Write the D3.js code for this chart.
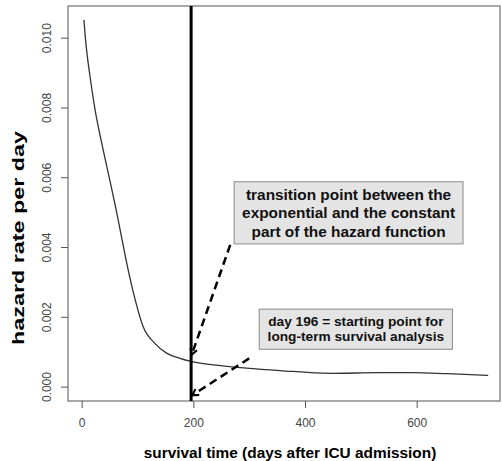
<!DOCTYPE html>
<html lang="en">
<head>
    <meta charset="UTF-8">
    <title>Hazard rate per day</title>
    <script src="https://cdnjs.cloudflare.com/ajax/libs/d3/7.8.5/d3.min.js"></script>
    <style>
        body { margin: 0; background: #fff; }
        svg { font-family: "Liberation Sans", Arial, sans-serif; display: block; }
    </style>
</head>
<body>
    <div id="chart"></div>

    <script>
        // hazard curve
        const days = [4, 7, 15, 24, 36, 49, 60, 70, 82, 96, 110, 131, 152, 176, 196, 236, 295, 355, 445, 534, 594, 654, 728];
        const hazard = [0.01051, 0.00993, 0.00888, 0.00793, 0.00697, 0.00602, 0.0052, 0.0044, 0.00344, 0.00248, 0.00172,
                        0.00124, 0.00096, 0.00081, 0.00072, 0.00062, 0.00053, 0.00046, 0.00038, 0.0004, 0.0004, 0.00037, 0.00032];

        const xTicks = [0, 200, 400, 600];
        const yTicks = [0, 0.002, 0.004, 0.006, 0.008, 0.010];

        const cutoffDay = 196;

        // annotation boxes and arrows in data units
        const noteLines1 = ["transition point between the", "exponential and the constant", "part of the hazard function"];
        const noteLines2 = ["day 196 = starting point for", "long-term survival analysis"];
        const noteBox1 = [273, 683, 0.00587, 0.00409];
        const noteBox2 = [318, 664, 0.00222, 0.00107];
        const arrow1 = [266, 0.00406, 197, 0.00091];
        const arrow2 = [300, 0.00081, 198, -0.00025];

        const W = 502, H = 461;
        const box = {left: 68, right: 500, top: 6, bottom: 401};

        const svg = d3.select("#chart").append("svg")
            .attr("width", W)
            .attr("height", H);

        const x = d3.scaleLinear()
            .domain([-24.5, 749.2])
            .range([box.left, box.right]);

        const y = d3.scaleLinear()
            .domain([-0.000413, 0.010908])
            .range([box.bottom, box.top]);

        // axes, R style: ticks outside, detached from box
        const xAxis = svg.append("g")
            .attr("transform", `translate(0,${box.bottom})`)
            .call(d3.axisBottom(x).tickValues(xTicks).tickSize(7).tickPadding(10).tickFormat(d3.format("d")));
        xAxis.select(".domain").remove();

        const yAxis = svg.append("g")
            .attr("transform", `translate(${box.left},0)`)
            .call(d3.axisLeft(y).tickValues(yTicks).tickSize(7).tickFormat(d3.format(".3f")));
        yAxis.select(".domain").remove();

        svg.selectAll(".tick line").attr("stroke", "#555");
        svg.selectAll(".tick text")
            .attr("fill", "#444")
            .attr("font-size", 12)
            .attr("font-family", "Liberation Sans, Arial, sans-serif");

        // rotate y tick labels like R's default las=0
        yAxis.selectAll(".tick text")
            .attr("x", null).attr("dy", null)
            .attr("text-anchor", "middle")
            .attr("transform", "translate(-21,0) rotate(-90)")
            .attr("dy", "0.35em");

        // plot frame
        svg.append("rect")
            .attr("x", box.left)
            .attr("y", box.top)
            .attr("width", box.right - box.left)
            .attr("height", box.bottom - box.top)
            .attr("fill", "none")
            .attr("stroke", "#555")
            .attr("stroke-width", 1);

        // axis titles
        svg.append("text")
            .attr("x", 290)
            .attr("y", 458)
            .attr("text-anchor", "middle")
            .attr("font-size", 15.4)
            .attr("font-weight", 700)
            .text("survival time (days after ICU admission)");

        svg.append("text")
            .attr("transform", "translate(24,238) rotate(-90)")
            .attr("text-anchor", "middle")
            .attr("font-size", 16)
            .attr("font-weight", 700)
            .attr("textLength", 214)
            .attr("lengthAdjust", "spacingAndGlyphs")
            .text("hazard rate per day");

        // hazard curve
        const pts = days.map((d, i) => [d, hazard[i]]);
        svg.append("path")
            .datum(pts)
            .attr("fill", "none")
            .attr("stroke", "#333")
            .attr("stroke-width", 1.3)
            .attr("d", d3.line().x(d => x(d[0])).y(d => y(d[1])).curve(d3.curveMonotoneX));

        // cutoff line
        svg.append("line")
            .attr("x1", x(cutoffDay)).attr("x2", x(cutoffDay))
            .attr("y1", box.top).attr("y2", box.bottom)
            .attr("stroke", "#000")
            .attr("stroke-width", 3);

        // dashed arrows
        function arrow(a) {
            const x1 = x(a[0]), y1 = y(a[1]), x2 = x(a[2]), y2 = y(a[3]);
            svg.append("line")
                .attr("x1", x1).attr("y1", y1).attr("x2", x2).attr("y2", y2)
                .attr("stroke", "#000")
                .attr("stroke-width", 2.5)
                .attr("stroke-dasharray", "8,5");
            const ang = Math.atan2(y2 - y1, x2 - x1);
            const len = 7, spread = Math.PI / 6;
            const head = [ang + Math.PI - spread, ang + Math.PI + spread]
                .map(t => [x2 + len * Math.cos(t), y2 + len * Math.sin(t)]);
            svg.append("path")
                .attr("d", `M${head[0][0]},${head[0][1]}L${x2},${y2}L${head[1][0]},${head[1][1]}`)
                .attr("fill", "none")
                .attr("stroke", "#000")
                .attr("stroke-width", 2);
        }
        arrow(arrow1);
        arrow(arrow2);

        // label boxes
        function note(b, lines, size, step) {
            const x0 = x(b[0]), x1 = x(b[1]), y0 = y(b[2]), y1 = y(b[3]);
            svg.append("rect")
                .attr("x", x0).attr("y", y0)
                .attr("width", x1 - x0).attr("height", y1 - y0)
                .attr("fill", "#e4e4e4")
                .attr("stroke", "#8a8a8a")
                .attr("stroke-width", 1);
            const cy = (y0 + y1) / 2;
            lines.forEach((s, i) => {
                svg.append("text")
                    .attr("x", (x0 + x1) / 2)
                    .attr("y", cy + (i - (lines.length - 1) / 2) * step)
                    .attr("dy", "0.35em")
                    .attr("text-anchor", "middle")
                    .attr("font-size", size)
                    .attr("font-weight", 700)
                    .attr("fill", "#111")
                    .text(s);
            });
        }
        note(noteBox1, noteLines1, 15.4, 18.5);
        note(noteBox2, noteLines2, 13.7, 15);
    </script>
</body>
</html>
